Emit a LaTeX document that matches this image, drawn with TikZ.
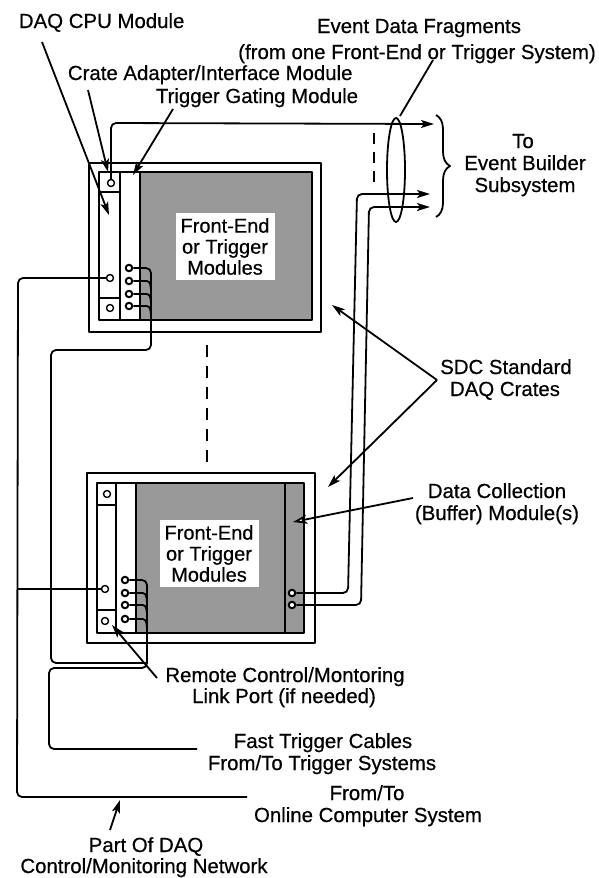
\documentclass[tikz,border=0pt]{standalone}
\usepackage{fontspec}
\setmainfont{Liberation Sans}
\newfontfamily\lblfont{Liberation Sans}[FakeBold=0.5]
\usetikzlibrary{arrows.meta,decorations.pathreplacing}
\begin{document}
\begin{tikzpicture}[x=1pt,y=-1pt,line width=1.8pt,line join=round,
  lbl/.style={font=\lblfont\fontsize{20.4}{22}\selectfont,inner sep=0pt,anchor=base},
  lblw/.style={lbl,anchor=base west},
  boxtxt/.style={fill=white,align=center,inner sep=0pt,minimum width=99pt,minimum height=67pt,font=\lblfont\fontsize{20}{21}\selectfont},
  frame/.style={line width=2pt},
  shade/.style={fill=black!40},
  port/.style={circle,draw,fill=white,line width=1.4pt,minimum size=7pt,inner sep=0pt},
  cport/.style={circle,draw,fill=white,line width=2pt,minimum size=6.5pt,inner sep=0pt},
  arr/.style={-{Stealth[length=13pt,width=8pt,inset=3pt]}},
  harr/.style={-{Stealth[length=14pt,width=9pt,inset=3pt,open,fill=white]}},
  wire/.style={rounded corners=5pt},
  dsh/.style={dash pattern=on 12pt off 9pt},
]
\fill[white] (0,0) rectangle (599,878);
\useasboundingbox (0,0) rectangle (599,878);

% ---------------- top crate ----------------
\draw[frame] (89,163) rectangle (321,332);
\fill[shade] (140,172) rectangle (312,320);
\draw[frame] (99,172) rectangle (312,320);
\draw (120,172) -- (120,320);
\draw (140,172) -- (140,320);
\draw (99,192) -- (120,192);
\draw (99,298) -- (120,298);
\node[boxtxt] (fe1) at (225,246.5) {Front-End\\or Trigger\\Modules};
\node[port] (cpuT) at (111,183) {};
\node[port] (cpuM) at (110,278) {};
\node[port] (cpuB) at (110,308) {};
\node[cport] (ad1) at (129,268) {};
\node[cport] (ad2) at (129,281) {};
\node[cport] (ad3) at (129,294) {};
\node[cport] (ad4) at (129,306) {};

% ---------------- lower crate ----------------
\draw[frame] (87,473) rectangle (315,643);
\fill[shade] (136,483) rectangle (304,633);
\draw[frame] (97,483) rectangle (304,633);
\draw (116,483) -- (116,633);
\draw (136,483) -- (136,633);
\draw (285,483) -- (285,633);
\draw (97,505) -- (116,505);
\draw (97,610) -- (116,610);
\node[boxtxt] (fe2) at (209,553.5) {Front-End\\or Trigger\\Modules};
\node[port] (cpuLT) at (107,494) {};
\node[port] (cpuLM) at (105,589) {};
\node[port] (cpuLB) at (105,621) {};
\node[cport] (al1) at (125,580) {};
\node[cport] (al2) at (125,593) {};
\node[cport] (al3) at (125,605) {};
\node[cport] (al4) at (125,619) {};
\node[cport] (bf1) at (292,593) {};
\node[cport] (bf2) at (292,605) {};

% ---------------- coordinates ----------------
\coordinate (eb1) at (434,124);
\coordinate (eb2) at (430,194);
\coordinate (eb3) at (430,207);
\coordinate (ftEnd) at (197,749);
\coordinate (netEnd) at (247,797);
\coordinate (netJ) at (17,589);

% ---------------- data wires ----------------
\draw[arr,wire] (cpuT.north) -- (111,123) -- (eb1);
\draw[arr,wire] (bf1.east) -- (348,593) -- (357,194) -- (eb2);
\draw[arr,wire] (bf2.east) -- (361,605) -- (369,207) -- (eb3);

% ---------------- trigger bundles ----------------
\draw[wire] (ad1.east) -- (151,268) -- (151,350) -- (51,350) -- (51,663) -- (147,663);
\foreach \n/\y in {ad2/281,ad3/294,ad4/306}{
  \draw (\n.east) -- (143,\y) .. controls (150,\y) .. (151,\y+9);
}
\draw[wire] (al1.east) -- (147,580) -- (147,668) -- (49,668) -- (49,749) -- (ftEnd);
\foreach \n/\y in {al2/593,al3/605,al4/619}{
  \draw (\n.east) -- (139,\y) .. controls (146,\y) .. (147,\y+9);
}

% ---------------- network ----------------
\draw[wire] (cpuM.west) -- (18,278) -- (17,797) -- (netEnd);
\draw (cpuLM.west) -- (netJ);

% ---------------- dashed lines, ellipse, brace ----------------
\draw[dsh] (207,345) -- (207,462);
\draw[dash pattern=on 11pt off 8pt] (374,133) -- (374,190);
\draw (396,170) ellipse [x radius=9pt,y radius=52pt];
\draw[decorate,decoration={brace,amplitude=14pt}] (436,115) -- (436,217);

% ---------------- labels ----------------
\node[lblw] (l1) at (18,28) {DAQ CPU Module};
\node[lblw] (l2) at (67,80) {Crate Adapter/Interface Module};
\node[lblw] (l3) at (155,103) {Trigger Gating Module};
\node[lbl] (l4a) at (419,33) {Event Data Fragments};
\node[lbl] (l4b) at (417,59) {(from one Front-End or Trigger System)};
\node[lbl] (l5a) at (523,148) {To};
\node[lbl] (l5b) at (525,170) {Event Builder};
\node[lbl] (l5c) at (525,192) {Subsystem};
\node[lbl] (l6a) at (506,374) {SDC Standard};
\node[lbl] (l6b) at (505,396) {DAQ Crates};
\node[lbl] (l7a) at (497,498) {Data Collection};
\node[lbl] (l7b) at (497,520) {(Buffer) Module(s)};
\node[lbl] (l8a) at (285,682) {Remote Control/Montoring};
\node[lbl] (l8b) at (284,703) {Link Port (if needed)};
\node[lbl] (l9a) at (323,748) {Fast Trigger Cables};
\node[lbl] (l9b) at (322,770) {From/To Trigger Systems};
\node[lbl] (l10a) at (367,800) {From/To};
\node[lbl] (l10b) at (368,822) {Online Computer System};
\node[lbl] (l11a) at (146,852) {Part Of DAQ};
\node[lbl] (l11b) at (144,873) {Control/Monitoring Network};

% ---------------- pointer arrows ----------------
\coordinate (p1) at (42,42);   \coordinate (t1) at (109,215);
\coordinate (p2) at (88,90);   \coordinate (t2) at (108,172);
\coordinate (p3) at (173,109); \coordinate (t3) at (133,175);
\coordinate (p4) at (433,60);  \coordinate (t4) at (400,116);
\coordinate (p5) at (437,380); \coordinate (t5a) at (332,305); \coordinate (t5b) at (328,487);
\coordinate (p6) at (413,498); \coordinate (t6) at (293,522);
\coordinate (p7) at (157,678); \coordinate (t7) at (112,625);
\coordinate (p8) at (110,830); \coordinate (t8) at (120,800);
\draw[arr] (p1) -- (t1);
\draw[arr] (p2) -- (t2);
\draw[arr] (p3) -- (t3);
\draw (p4) -- (t4);
\draw[arr] (p5) -- (t5a);
\draw[arr] (p5) -- (t5b);
\draw[harr] (p6) -- (t6);
\draw[arr] (p7) -- (t7);
\draw[arr] (p8) -- (t8);
\end{tikzpicture}
\end{document}
